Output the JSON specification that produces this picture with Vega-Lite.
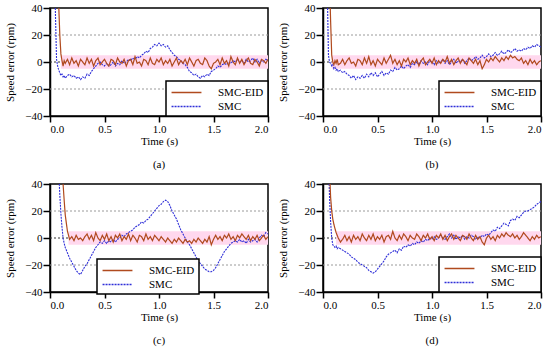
{
"$schema":"https://vega.github.io/schema/vega-lite/v6.json",
"padding":{"left":4,"top":1,"right":0,"bottom":0},
"config":{
"font":"Liberation Serif",
"view":{"stroke":"black","strokeWidth":1.5},
"axis":{"domainColor":"black","domainWidth":1.5,"tickColor":"black","tickWidth":1.5,"labelFont":"Liberation Serif","labelFontSize":11,"labelColor":"black","titleFont":"Liberation Serif","titleFontSize":11,"titleFontWeight":"normal","titleColor":"black","grid":false},
"axisX":{"tickSize":6,"labelPadding":1,"titlePadding":1},
"axisY":{"tickSize":7,"labelPadding":1,"titlePadding":9},
"legend":{"strokeColor":"black","strokeWidth":1.5,"fillColor":"white","padding":4,"symbolType":"M-2.3,0H2.3","symbolSize":169,"symbolOffset":9,"symbolStrokeWidth":1.5,"labelFont":"Liberation Serif","labelFontSize":11,"labelColor":"black","rowPadding":1,"labelOffset":24,"cornerRadius":0},
"title":{"font":"Liberation Serif","fontSize":11,"fontWeight":"normal","color":"black","orient":"bottom","offset":13}
},
"datasets":{
"a":[
{"t":0,"eid":300,"smc":300},{"t":0.04,"eid":200,"smc":80},{"t":0.05,"eid":150,"smc":35},{"t":0.06,"eid":110,"smc":2},{"t":0.07,"eid":70,"smc":-3},{"t":0.08,"eid":42,"smc":-6},{"t":0.09,"eid":20,"smc":-8},{"t":0.10,"eid":6,"smc":-10},{"t":0.11,"eid":1,"smc":-9},{"t":0.12,"eid":-3,"smc":-11},{"t":0.13,"eid":1,"smc":-10},{"t":0.14,"eid":-1,"smc":-12},
{"t":0.16,"eid":2,"smc":-10},{"t":0.18,"eid":-2,"smc":-9},{"t":0.20,"eid":3,"smc":-11},{"t":0.22,"eid":-1,"smc":-10},{"t":0.24,"eid":1,"smc":-12},{"t":0.26,"eid":-3,"smc":-11},{"t":0.28,"eid":2,"smc":-13},{"t":0.30,"eid":0,"smc":-11},{"t":0.32,"eid":-2,"smc":-12},{"t":0.34,"eid":3,"smc":-9},{"t":0.36,"eid":-1,"smc":-10},{"t":0.38,"eid":2,"smc":-7},{"t":0.40,"eid":-3,"smc":-5},{"t":0.42,"eid":1,"smc":-3},{"t":0.44,"eid":3,"smc":-1},{"t":0.46,"eid":-2,"smc":0},{"t":0.48,"eid":0,"smc":-2},{"t":0.50,"eid":2,"smc":-3},{"t":0.52,"eid":-1,"smc":-1},{"t":0.54,"eid":-3,"smc":-3},{"t":0.56,"eid":2,"smc":-2},{"t":0.58,"eid":1,"smc":0},{"t":0.60,"eid":-2,"smc":-3},{"t":0.62,"eid":3,"smc":-1},{"t":0.64,"eid":0,"smc":-2},{"t":0.66,"eid":-1,"smc":1},{"t":0.68,"eid":2,"smc":-1},{"t":0.70,"eid":-3,"smc":0},{"t":0.72,"eid":1,"smc":2},{"t":0.74,"eid":2,"smc":1},{"t":0.76,"eid":-2,"smc":3},{"t":0.78,"eid":4,"smc":2},{"t":0.80,"eid":-1,"smc":4},{"t":0.82,"eid":0,"smc":3},{"t":0.84,"eid":-3,"smc":5},{"t":0.86,"eid":2,"smc":6},{"t":0.88,"eid":1,"smc":8},{"t":0.90,"eid":-2,"smc":7},{"t":0.92,"eid":3,"smc":10},{"t":0.94,"eid":-1,"smc":11},{"t":0.96,"eid":-2,"smc":13},{"t":0.98,"eid":2,"smc":12},{"t":1.00,"eid":0,"smc":14},{"t":1.02,"eid":3,"smc":12},{"t":1.04,"eid":-2,"smc":13},{"t":1.06,"eid":1,"smc":11},{"t":1.08,"eid":-1,"smc":12},{"t":1.10,"eid":2,"smc":9},{"t":1.12,"eid":-3,"smc":7},{"t":1.14,"eid":0,"smc":5},{"t":1.16,"eid":3,"smc":4},{"t":1.18,"eid":-2,"smc":2},{"t":1.20,"eid":1,"smc":1},{"t":1.22,"eid":-1,"smc":-1},{"t":1.24,"eid":2,"smc":-2},{"t":1.26,"eid":-2,"smc":-4},{"t":1.28,"eid":3,"smc":-7},{"t":1.30,"eid":0,"smc":-8},{"t":1.32,"eid":-3,"smc":-10},{"t":1.34,"eid":1,"smc":-9},{"t":1.36,"eid":2,"smc":-11},{"t":1.38,"eid":-1,"smc":-12},{"t":1.40,"eid":-2,"smc":-10},{"t":1.42,"eid":3,"smc":-11},{"t":1.44,"eid":1,"smc":-9},{"t":1.46,"eid":-3,"smc":-10},{"t":1.48,"eid":-5,"smc":-7},{"t":1.50,"eid":-1,"smc":-6},{"t":1.52,"eid":0,"smc":-5},{"t":1.54,"eid":2,"smc":-3},{"t":1.56,"eid":-2,"smc":-4},{"t":1.58,"eid":3,"smc":-2},{"t":1.60,"eid":-1,"smc":-1},{"t":1.62,"eid":1,"smc":-2},{"t":1.64,"eid":-3,"smc":0},{"t":1.66,"eid":4,"smc":-1},{"t":1.68,"eid":0,"smc":1},{"t":1.70,"eid":-2,"smc":0},{"t":1.72,"eid":3,"smc":2},{"t":1.74,"eid":-1,"smc":0},{"t":1.76,"eid":2,"smc":1},{"t":1.78,"eid":-2,"smc":-1},{"t":1.80,"eid":1,"smc":2},{"t":1.82,"eid":3,"smc":0},{"t":1.84,"eid":-1,"smc":1},{"t":1.86,"eid":-2,"smc":3},{"t":1.88,"eid":2,"smc":0},{"t":1.90,"eid":0,"smc":2},{"t":1.92,"eid":-3,"smc":-1},{"t":1.94,"eid":2,"smc":1},{"t":1.96,"eid":1,"smc":0},{"t":1.98,"eid":-1,"smc":2},{"t":2.00,"eid":2,"smc":1}
],
"b":[
{"t":0,"eid":300,"smc":300},{"t":0.04,"eid":150,"smc":50},{"t":0.05,"eid":100,"smc":5},{"t":0.06,"eid":60,"smc":0},{"t":0.07,"eid":30,"smc":-1},{"t":0.08,"eid":5,"smc":-3},{"t":0.09,"eid":0,"smc":-2},{"t":0.10,"eid":-2,"smc":-5},{"t":0.11,"eid":1,"smc":-4},{"t":0.12,"eid":-1,"smc":-6},{"t":0.13,"eid":2,"smc":-5},{"t":0.14,"eid":-2,"smc":-7},
{"t":0.16,"eid":-1,"smc":-6},{"t":0.18,"eid":2,"smc":-8},{"t":0.20,"eid":-2,"smc":-7},{"t":0.22,"eid":1,"smc":-9},{"t":0.24,"eid":3,"smc":-10},{"t":0.26,"eid":-1,"smc":-12},{"t":0.28,"eid":0,"smc":-10},{"t":0.30,"eid":-3,"smc":-13},{"t":0.32,"eid":2,"smc":-11},{"t":0.34,"eid":1,"smc":-12},{"t":0.36,"eid":-2,"smc":-10},{"t":0.38,"eid":3,"smc":-12},{"t":0.40,"eid":-1,"smc":-9},{"t":0.42,"eid":4,"smc":-11},{"t":0.44,"eid":-2,"smc":-8},{"t":0.46,"eid":1,"smc":-10},{"t":0.48,"eid":-3,"smc":-8},{"t":0.50,"eid":2,"smc":-11},{"t":0.52,"eid":0,"smc":-9},{"t":0.54,"eid":-2,"smc":-7},{"t":0.56,"eid":3,"smc":-10},{"t":0.58,"eid":-1,"smc":-8},{"t":0.60,"eid":2,"smc":-9},{"t":0.62,"eid":5,"smc":-6},{"t":0.64,"eid":-1,"smc":-7},{"t":0.66,"eid":2,"smc":-4},{"t":0.68,"eid":-2,"smc":-6},{"t":0.70,"eid":1,"smc":-5},{"t":0.72,"eid":-3,"smc":-3},{"t":0.74,"eid":2,"smc":-5},{"t":0.76,"eid":0,"smc":-3},{"t":0.78,"eid":3,"smc":-2},{"t":0.80,"eid":-2,"smc":-4},{"t":0.82,"eid":1,"smc":-1},{"t":0.84,"eid":-1,"smc":-2},{"t":0.86,"eid":2,"smc":0},{"t":0.88,"eid":-3,"smc":-2},{"t":0.90,"eid":1,"smc":1},{"t":0.92,"eid":3,"smc":-1},{"t":0.94,"eid":-2,"smc":0},{"t":0.96,"eid":0,"smc":-2},{"t":0.98,"eid":2,"smc":1},{"t":1.00,"eid":-1,"smc":0},{"t":1.02,"eid":3,"smc":-2},{"t":1.04,"eid":-2,"smc":1},{"t":1.06,"eid":1,"smc":-1},{"t":1.08,"eid":-1,"smc":0},{"t":1.10,"eid":2,"smc":2},{"t":1.12,"eid":0,"smc":-1},{"t":1.14,"eid":4,"smc":1},{"t":1.16,"eid":-1,"smc":-2},{"t":1.18,"eid":2,"smc":0},{"t":1.20,"eid":-2,"smc":2},{"t":1.22,"eid":1,"smc":-1},{"t":1.24,"eid":3,"smc":1},{"t":1.26,"eid":-1,"smc":0},{"t":1.28,"eid":2,"smc":2},{"t":1.30,"eid":0,"smc":-1},{"t":1.32,"eid":-2,"smc":1},{"t":1.34,"eid":3,"smc":3},{"t":1.36,"eid":1,"smc":1},{"t":1.38,"eid":-1,"smc":2},{"t":1.40,"eid":2,"smc":4},{"t":1.42,"eid":-2,"smc":2},{"t":1.44,"eid":1,"smc":3},{"t":1.46,"eid":-5,"smc":5},{"t":1.48,"eid":-2,"smc":3},{"t":1.50,"eid":2,"smc":4},{"t":1.52,"eid":0,"smc":6},{"t":1.54,"eid":3,"smc":4},{"t":1.56,"eid":1,"smc":5},{"t":1.58,"eid":4,"smc":7},{"t":1.60,"eid":2,"smc":5},{"t":1.62,"eid":0,"smc":6},{"t":1.64,"eid":3,"smc":8},{"t":1.66,"eid":1,"smc":6},{"t":1.68,"eid":4,"smc":7},{"t":1.70,"eid":2,"smc":9},{"t":1.72,"eid":5,"smc":7},{"t":1.74,"eid":3,"smc":8},{"t":1.76,"eid":4,"smc":10},{"t":1.78,"eid":2,"smc":8},{"t":1.80,"eid":1,"smc":9},{"t":1.82,"eid":3,"smc":8},{"t":1.84,"eid":-1,"smc":10},{"t":1.86,"eid":1,"smc":9},{"t":1.88,"eid":-2,"smc":11},{"t":1.90,"eid":2,"smc":10},{"t":1.92,"eid":-1,"smc":12},{"t":1.94,"eid":1,"smc":11},{"t":1.96,"eid":-2,"smc":13},{"t":1.98,"eid":0,"smc":12},{"t":2.00,"eid":1,"smc":11}
],
"c":[
{"t":0,"eid":300,"smc":300},{"t":0.04,"eid":200,"smc":180},{"t":0.05,"eid":170,"smc":140},{"t":0.06,"eid":140,"smc":100},{"t":0.07,"eid":115,"smc":70},{"t":0.08,"eid":95,"smc":50},{"t":0.09,"eid":80,"smc":32},{"t":0.10,"eid":70,"smc":18},{"t":0.11,"eid":55,"smc":8},{"t":0.12,"eid":40,"smc":0},{"t":0.13,"eid":28,"smc":-4},{"t":0.14,"eid":17,"smc":-7},
{"t":0.16,"eid":5,"smc":-11},{"t":0.18,"eid":-1,"smc":-15},{"t":0.20,"eid":1,"smc":-18},{"t":0.22,"eid":-2,"smc":-21},{"t":0.24,"eid":2,"smc":-24},{"t":0.26,"eid":-1,"smc":-26},{"t":0.28,"eid":0,"smc":-27},{"t":0.30,"eid":-2,"smc":-24},{"t":0.32,"eid":1,"smc":-21},{"t":0.34,"eid":3,"smc":-19},{"t":0.36,"eid":-1,"smc":-16},{"t":0.38,"eid":2,"smc":-13},{"t":0.40,"eid":-2,"smc":-10},{"t":0.42,"eid":4,"smc":-7},{"t":0.44,"eid":0,"smc":-5},{"t":0.46,"eid":-2,"smc":-3},{"t":0.48,"eid":2,"smc":-4},{"t":0.50,"eid":-1,"smc":-2},{"t":0.52,"eid":3,"smc":-4},{"t":0.54,"eid":-2,"smc":-2},{"t":0.56,"eid":1,"smc":-3},{"t":0.58,"eid":-3,"smc":-1},{"t":0.60,"eid":2,"smc":-3},{"t":0.62,"eid":0,"smc":-1},{"t":0.64,"eid":3,"smc":0},{"t":0.66,"eid":-2,"smc":2},{"t":0.68,"eid":1,"smc":1},{"t":0.70,"eid":-1,"smc":3},{"t":0.72,"eid":3,"smc":4},{"t":0.74,"eid":-2,"smc":5},{"t":0.76,"eid":2,"smc":6},{"t":0.78,"eid":0,"smc":8},{"t":0.80,"eid":-3,"smc":9},{"t":0.82,"eid":2,"smc":10},{"t":0.84,"eid":1,"smc":12},{"t":0.86,"eid":-2,"smc":11},{"t":0.88,"eid":3,"smc":13},{"t":0.90,"eid":-1,"smc":14},{"t":0.92,"eid":1,"smc":16},{"t":0.94,"eid":-2,"smc":18},{"t":0.96,"eid":2,"smc":20},{"t":0.98,"eid":0,"smc":22},{"t":1.00,"eid":-2,"smc":24},{"t":1.02,"eid":1,"smc":25},{"t":1.04,"eid":-1,"smc":27},{"t":1.06,"eid":-3,"smc":28},{"t":1.08,"eid":0,"smc":27},{"t":1.10,"eid":-2,"smc":24},{"t":1.12,"eid":-4,"smc":20},{"t":1.14,"eid":-1,"smc":17},{"t":1.16,"eid":-3,"smc":14},{"t":1.18,"eid":0,"smc":10},{"t":1.20,"eid":-2,"smc":6},{"t":1.22,"eid":-4,"smc":3},{"t":1.24,"eid":-1,"smc":0},{"t":1.26,"eid":-3,"smc":-3},{"t":1.28,"eid":-2,"smc":-5},{"t":1.30,"eid":-4,"smc":-8},{"t":1.32,"eid":-1,"smc":-11},{"t":1.34,"eid":-3,"smc":-14},{"t":1.36,"eid":0,"smc":-17},{"t":1.38,"eid":-2,"smc":-19},{"t":1.40,"eid":-4,"smc":-21},{"t":1.42,"eid":-1,"smc":-23},{"t":1.44,"eid":-3,"smc":-24},{"t":1.46,"eid":1,"smc":-25},{"t":1.48,"eid":-5,"smc":-25},{"t":1.50,"eid":-1,"smc":-24},{"t":1.52,"eid":2,"smc":-22},{"t":1.54,"eid":-1,"smc":-19},{"t":1.56,"eid":1,"smc":-16},{"t":1.58,"eid":-2,"smc":-13},{"t":1.60,"eid":2,"smc":-10},{"t":1.62,"eid":0,"smc":-8},{"t":1.64,"eid":3,"smc":-6},{"t":1.66,"eid":-1,"smc":-4},{"t":1.68,"eid":1,"smc":-3},{"t":1.70,"eid":-2,"smc":-2},{"t":1.72,"eid":2,"smc":-3},{"t":1.74,"eid":0,"smc":-1},{"t":1.76,"eid":3,"smc":-3},{"t":1.78,"eid":1,"smc":-2},{"t":1.80,"eid":-1,"smc":-4},{"t":1.82,"eid":2,"smc":-1},{"t":1.84,"eid":-2,"smc":-3},{"t":1.86,"eid":1,"smc":-2},{"t":1.88,"eid":-1,"smc":-1},{"t":1.90,"eid":2,"smc":-3},{"t":1.92,"eid":-2,"smc":0},{"t":1.94,"eid":0,"smc":2},{"t":1.96,"eid":2,"smc":1},{"t":1.98,"eid":-1,"smc":4},{"t":2.00,"eid":1,"smc":3}
],
"d":[
{"t":0,"eid":300,"smc":300},{"t":0.04,"eid":150,"smc":120},{"t":0.05,"eid":110,"smc":60},{"t":0.06,"eid":50,"smc":30},{"t":0.07,"eid":30,"smc":12},{"t":0.08,"eid":20,"smc":0},{"t":0.09,"eid":14,"smc":-5},{"t":0.10,"eid":10,"smc":-6},{"t":0.11,"eid":7,"smc":-7},{"t":0.12,"eid":4,"smc":-6},{"t":0.13,"eid":2,"smc":-8},{"t":0.14,"eid":0,"smc":-7},
{"t":0.16,"eid":-3,"smc":-8},{"t":0.18,"eid":-1,"smc":-9},{"t":0.20,"eid":2,"smc":-10},{"t":0.22,"eid":-2,"smc":-11},{"t":0.24,"eid":1,"smc":-12},{"t":0.26,"eid":-3,"smc":-14},{"t":0.28,"eid":2,"smc":-15},{"t":0.30,"eid":-1,"smc":-16},{"t":0.32,"eid":1,"smc":-18},{"t":0.34,"eid":-2,"smc":-19},{"t":0.36,"eid":3,"smc":-20},{"t":0.38,"eid":0,"smc":-21},{"t":0.40,"eid":-2,"smc":-22},{"t":0.42,"eid":2,"smc":-24},{"t":0.44,"eid":-1,"smc":-25},{"t":0.46,"eid":3,"smc":-26},{"t":0.48,"eid":-2,"smc":-25},{"t":0.50,"eid":1,"smc":-23},{"t":0.52,"eid":-1,"smc":-21},{"t":0.54,"eid":2,"smc":-19},{"t":0.56,"eid":-3,"smc":-17},{"t":0.58,"eid":1,"smc":-14},{"t":0.60,"eid":2,"smc":-12},{"t":0.62,"eid":-1,"smc":-11},{"t":0.64,"eid":5,"smc":-10},{"t":0.66,"eid":0,"smc":-9},{"t":0.68,"eid":-2,"smc":-11},{"t":0.70,"eid":2,"smc":-8},{"t":0.72,"eid":-1,"smc":-9},{"t":0.74,"eid":3,"smc":-6},{"t":0.76,"eid":1,"smc":-7},{"t":0.78,"eid":-2,"smc":-5},{"t":0.80,"eid":2,"smc":-6},{"t":0.82,"eid":0,"smc":-4},{"t":0.84,"eid":-1,"smc":-5},{"t":0.86,"eid":3,"smc":-3},{"t":0.88,"eid":1,"smc":-4},{"t":0.90,"eid":-2,"smc":-2},{"t":0.92,"eid":2,"smc":-3},{"t":0.94,"eid":0,"smc":-1},{"t":0.96,"eid":3,"smc":-2},{"t":0.98,"eid":-1,"smc":0},{"t":1.00,"eid":1,"smc":-1},{"t":1.02,"eid":-2,"smc":1},{"t":1.04,"eid":2,"smc":-1},{"t":1.06,"eid":0,"smc":0},{"t":1.08,"eid":3,"smc":2},{"t":1.10,"eid":-1,"smc":0},{"t":1.12,"eid":2,"smc":-1},{"t":1.14,"eid":-2,"smc":1},{"t":1.16,"eid":1,"smc":3},{"t":1.18,"eid":3,"smc":0},{"t":1.20,"eid":-1,"smc":2},{"t":1.22,"eid":2,"smc":-1},{"t":1.24,"eid":0,"smc":1},{"t":1.26,"eid":-2,"smc":0},{"t":1.28,"eid":2,"smc":2},{"t":1.30,"eid":1,"smc":-1},{"t":1.32,"eid":-1,"smc":1},{"t":1.34,"eid":3,"smc":0},{"t":1.36,"eid":0,"smc":2},{"t":1.38,"eid":-2,"smc":1},{"t":1.40,"eid":2,"smc":-1},{"t":1.42,"eid":-1,"smc":1},{"t":1.44,"eid":1,"smc":0},{"t":1.46,"eid":-3,"smc":2},{"t":1.48,"eid":-5,"smc":1},{"t":1.50,"eid":0,"smc":3},{"t":1.52,"eid":2,"smc":2},{"t":1.54,"eid":-1,"smc":4},{"t":1.56,"eid":1,"smc":6},{"t":1.58,"eid":-2,"smc":5},{"t":1.60,"eid":2,"smc":8},{"t":1.62,"eid":0,"smc":7},{"t":1.64,"eid":3,"smc":9},{"t":1.66,"eid":1,"smc":11},{"t":1.68,"eid":4,"smc":10},{"t":1.70,"eid":2,"smc":9},{"t":1.72,"eid":1,"smc":13},{"t":1.74,"eid":3,"smc":14},{"t":1.76,"eid":0,"smc":13},{"t":1.78,"eid":2,"smc":16},{"t":1.80,"eid":-1,"smc":15},{"t":1.82,"eid":1,"smc":17},{"t":1.84,"eid":4,"smc":19},{"t":1.86,"eid":2,"smc":20},{"t":1.88,"eid":0,"smc":20},{"t":1.90,"eid":-2,"smc":21},{"t":1.92,"eid":1,"smc":22},{"t":1.94,"eid":-1,"smc":23},{"t":1.96,"eid":2,"smc":25},{"t":1.98,"eid":0,"smc":26},{"t":2.00,"eid":1,"smc":27}
]
},
"resolve":{"scale":{"color":"independent","strokeDash":"independent"},"legend":{"color":"independent","strokeDash":"independent"}},
"spacing":6,
"vconcat":[
{"hconcat":[
{"width":218,"height":108,"title":{"text":"(a)"},"layer":[
{"data":{"values":[{"y":-20},{"y":0},{"y":20}]},"mark":{"type":"rule","strokeDash":[2,2],"strokeWidth":1},"encoding":{"y":{"field":"y","type":"quantitative","scale":{"domain":[-40,40],"nice":false},"axis":{"values":[-40,-20,0,20,40],"title":"Speed error (rpm)"}},"color":{"condition":{"test":"datum.y===0","value":"#333333"},"value":"#9a9a9a"}}},
{"data":{"values":[{"x0":0.1,"x1":2,"y0":-5,"y1":5}]},"mark":{"type":"rect","color":"#ffd8ee"},"encoding":{"x":{"field":"x0","type":"quantitative","scale":{"domain":[0,2],"nice":false},"axis":{"values":[0,0.5,1,1.5,2],"format":".1f","title":"Time (s)"}},"x2":{"field":"x1"},"y":{"field":"y0","type":"quantitative","scale":{"domain":[-40,40],"nice":false},"axis":{"values":[-40,-20,0,20,40],"title":"Speed error (rpm)"}},"y2":{"field":"y1"}}},
{"data":{"name":"a"},"mark":{"type":"line","clip":true,"strokeWidth":1.1},"encoding":{"x":{"field":"t","type":"quantitative","scale":{"domain":[0,2],"nice":false},"axis":{"values":[0,0.5,1,1.5,2],"format":".1f","title":"Time (s)"}},"y":{"field":"smc","type":"quantitative","scale":{"domain":[-40,40],"nice":false},"axis":{"values":[-40,-20,0,20,40],"title":"Speed error (rpm)"}},"color":{"datum":"SMC","type":"nominal","scale":{"domain":["SMC-EID","SMC"],"range":["#b04a1e","#2f2fd8"]},"legend":{"title":null,"orient":"bottom-right","offset":0}},"strokeDash":{"datum":"SMC","type":"nominal","scale":{"domain":["SMC-EID","SMC"],"range":[[1,0],[2,1]]},"legend":{"title":null,"orient":"bottom-right","offset":0}}}},
{"data":{"name":"a"},"mark":{"type":"line","clip":true,"strokeWidth":1.2},"encoding":{"x":{"field":"t","type":"quantitative","scale":{"domain":[0,2],"nice":false},"axis":{"values":[0,0.5,1,1.5,2],"format":".1f","title":"Time (s)"}},"y":{"field":"eid","type":"quantitative","scale":{"domain":[-40,40],"nice":false},"axis":{"values":[-40,-20,0,20,40],"title":"Speed error (rpm)"}},"color":{"datum":"SMC-EID","type":"nominal"},"strokeDash":{"datum":"SMC-EID","type":"nominal"}}}
]},
{"width":218,"height":108,"title":{"text":"(b)"},"layer":[
{"data":{"values":[{"y":-20},{"y":0},{"y":20}]},"mark":{"type":"rule","strokeDash":[2,2],"strokeWidth":1},"encoding":{"y":{"field":"y","type":"quantitative","scale":{"domain":[-40,40],"nice":false},"axis":{"values":[-40,-20,0,20,40],"title":"Speed error (rpm)"}},"color":{"condition":{"test":"datum.y===0","value":"#333333"},"value":"#9a9a9a"}}},
{"data":{"values":[{"x0":0.08,"x1":2,"y0":-5,"y1":5}]},"mark":{"type":"rect","color":"#ffd8ee"},"encoding":{"x":{"field":"x0","type":"quantitative","scale":{"domain":[0,2],"nice":false},"axis":{"values":[0,0.5,1,1.5,2],"format":".1f","title":"Time (s)"}},"x2":{"field":"x1"},"y":{"field":"y0","type":"quantitative","scale":{"domain":[-40,40],"nice":false},"axis":{"values":[-40,-20,0,20,40],"title":"Speed error (rpm)"}},"y2":{"field":"y1"}}},
{"data":{"name":"b"},"mark":{"type":"line","clip":true,"strokeWidth":1.1},"encoding":{"x":{"field":"t","type":"quantitative","scale":{"domain":[0,2],"nice":false},"axis":{"values":[0,0.5,1,1.5,2],"format":".1f","title":"Time (s)"}},"y":{"field":"smc","type":"quantitative","scale":{"domain":[-40,40],"nice":false},"axis":{"values":[-40,-20,0,20,40],"title":"Speed error (rpm)"}},"color":{"datum":"SMC","type":"nominal","scale":{"domain":["SMC-EID","SMC"],"range":["#b04a1e","#2f2fd8"]},"legend":{"title":null,"orient":"bottom-right","offset":0}},"strokeDash":{"datum":"SMC","type":"nominal","scale":{"domain":["SMC-EID","SMC"],"range":[[1,0],[2,1]]},"legend":{"title":null,"orient":"bottom-right","offset":0}}}},
{"data":{"name":"b"},"mark":{"type":"line","clip":true,"strokeWidth":1.2},"encoding":{"x":{"field":"t","type":"quantitative","scale":{"domain":[0,2],"nice":false},"axis":{"values":[0,0.5,1,1.5,2],"format":".1f","title":"Time (s)"}},"y":{"field":"eid","type":"quantitative","scale":{"domain":[-40,40],"nice":false},"axis":{"values":[-40,-20,0,20,40],"title":"Speed error (rpm)"}},"color":{"datum":"SMC-EID","type":"nominal"},"strokeDash":{"datum":"SMC-EID","type":"nominal"}}}
]}
],"spacing":7,"resolve":{"scale":{"color":"independent","strokeDash":"independent"},"legend":{"color":"independent","strokeDash":"independent"}}},
{"hconcat":[
{"width":218,"height":108,"title":{"text":"(c)"},"layer":[
{"data":{"values":[{"y":-20},{"y":0},{"y":20}]},"mark":{"type":"rule","strokeDash":[2,2],"strokeWidth":1},"encoding":{"y":{"field":"y","type":"quantitative","scale":{"domain":[-40,40],"nice":false},"axis":{"values":[-40,-20,0,20,40],"title":"Speed error (rpm)"}},"color":{"condition":{"test":"datum.y===0","value":"#333333"},"value":"#9a9a9a"}}},
{"data":{"values":[{"x0":0.17,"x1":2,"y0":-5,"y1":5}]},"mark":{"type":"rect","color":"#ffd8ee"},"encoding":{"x":{"field":"x0","type":"quantitative","scale":{"domain":[0,2],"nice":false},"axis":{"values":[0,0.5,1,1.5,2],"format":".1f","title":"Time (s)"}},"x2":{"field":"x1"},"y":{"field":"y0","type":"quantitative","scale":{"domain":[-40,40],"nice":false},"axis":{"values":[-40,-20,0,20,40],"title":"Speed error (rpm)"}},"y2":{"field":"y1"}}},
{"data":{"name":"c"},"mark":{"type":"line","clip":true,"strokeWidth":1.1},"encoding":{"x":{"field":"t","type":"quantitative","scale":{"domain":[0,2],"nice":false},"axis":{"values":[0,0.5,1,1.5,2],"format":".1f","title":"Time (s)"}},"y":{"field":"smc","type":"quantitative","scale":{"domain":[-40,40],"nice":false},"axis":{"values":[-40,-20,0,20,40],"title":"Speed error (rpm)"}},"color":{"datum":"SMC","type":"nominal","scale":{"domain":["SMC-EID","SMC"],"range":["#b04a1e","#2f2fd8"]},"legend":{"title":null,"orient":"none","legendX":47,"legendY":75}},"strokeDash":{"datum":"SMC","type":"nominal","scale":{"domain":["SMC-EID","SMC"],"range":[[1,0],[2,1]]},"legend":{"title":null,"orient":"none","legendX":47,"legendY":75}}}},
{"data":{"name":"c"},"mark":{"type":"line","clip":true,"strokeWidth":1.2},"encoding":{"x":{"field":"t","type":"quantitative","scale":{"domain":[0,2],"nice":false},"axis":{"values":[0,0.5,1,1.5,2],"format":".1f","title":"Time (s)"}},"y":{"field":"eid","type":"quantitative","scale":{"domain":[-40,40],"nice":false},"axis":{"values":[-40,-20,0,20,40],"title":"Speed error (rpm)"}},"color":{"datum":"SMC-EID","type":"nominal"},"strokeDash":{"datum":"SMC-EID","type":"nominal"}}}
]},
{"width":218,"height":108,"title":{"text":"(d)"},"layer":[
{"data":{"values":[{"y":-20},{"y":0},{"y":20}]},"mark":{"type":"rule","strokeDash":[2,2],"strokeWidth":1},"encoding":{"y":{"field":"y","type":"quantitative","scale":{"domain":[-40,40],"nice":false},"axis":{"values":[-40,-20,0,20,40],"title":"Speed error (rpm)"}},"color":{"condition":{"test":"datum.y===0","value":"#333333"},"value":"#9a9a9a"}}},
{"data":{"values":[{"x0":0.12,"x1":2,"y0":-5,"y1":5}]},"mark":{"type":"rect","color":"#ffd8ee"},"encoding":{"x":{"field":"x0","type":"quantitative","scale":{"domain":[0,2],"nice":false},"axis":{"values":[0,0.5,1,1.5,2],"format":".1f","title":"Time (s)"}},"x2":{"field":"x1"},"y":{"field":"y0","type":"quantitative","scale":{"domain":[-40,40],"nice":false},"axis":{"values":[-40,-20,0,20,40],"title":"Speed error (rpm)"}},"y2":{"field":"y1"}}},
{"data":{"name":"d"},"mark":{"type":"line","clip":true,"strokeWidth":1.1},"encoding":{"x":{"field":"t","type":"quantitative","scale":{"domain":[0,2],"nice":false},"axis":{"values":[0,0.5,1,1.5,2],"format":".1f","title":"Time (s)"}},"y":{"field":"smc","type":"quantitative","scale":{"domain":[-40,40],"nice":false},"axis":{"values":[-40,-20,0,20,40],"title":"Speed error (rpm)"}},"color":{"datum":"SMC","type":"nominal","scale":{"domain":["SMC-EID","SMC"],"range":["#b04a1e","#2f2fd8"]},"legend":{"title":null,"orient":"bottom-right","offset":0}},"strokeDash":{"datum":"SMC","type":"nominal","scale":{"domain":["SMC-EID","SMC"],"range":[[1,0],[2,1]]},"legend":{"title":null,"orient":"bottom-right","offset":0}}}},
{"data":{"name":"d"},"mark":{"type":"line","clip":true,"strokeWidth":1.2},"encoding":{"x":{"field":"t","type":"quantitative","scale":{"domain":[0,2],"nice":false},"axis":{"values":[0,0.5,1,1.5,2],"format":".1f","title":"Time (s)"}},"y":{"field":"eid","type":"quantitative","scale":{"domain":[-40,40],"nice":false},"axis":{"values":[-40,-20,0,20,40],"title":"Speed error (rpm)"}},"color":{"datum":"SMC-EID","type":"nominal"},"strokeDash":{"datum":"SMC-EID","type":"nominal"}}}
]}
],"spacing":7,"resolve":{"scale":{"color":"independent","strokeDash":"independent"},"legend":{"color":"independent","strokeDash":"independent"}}}
]
}
